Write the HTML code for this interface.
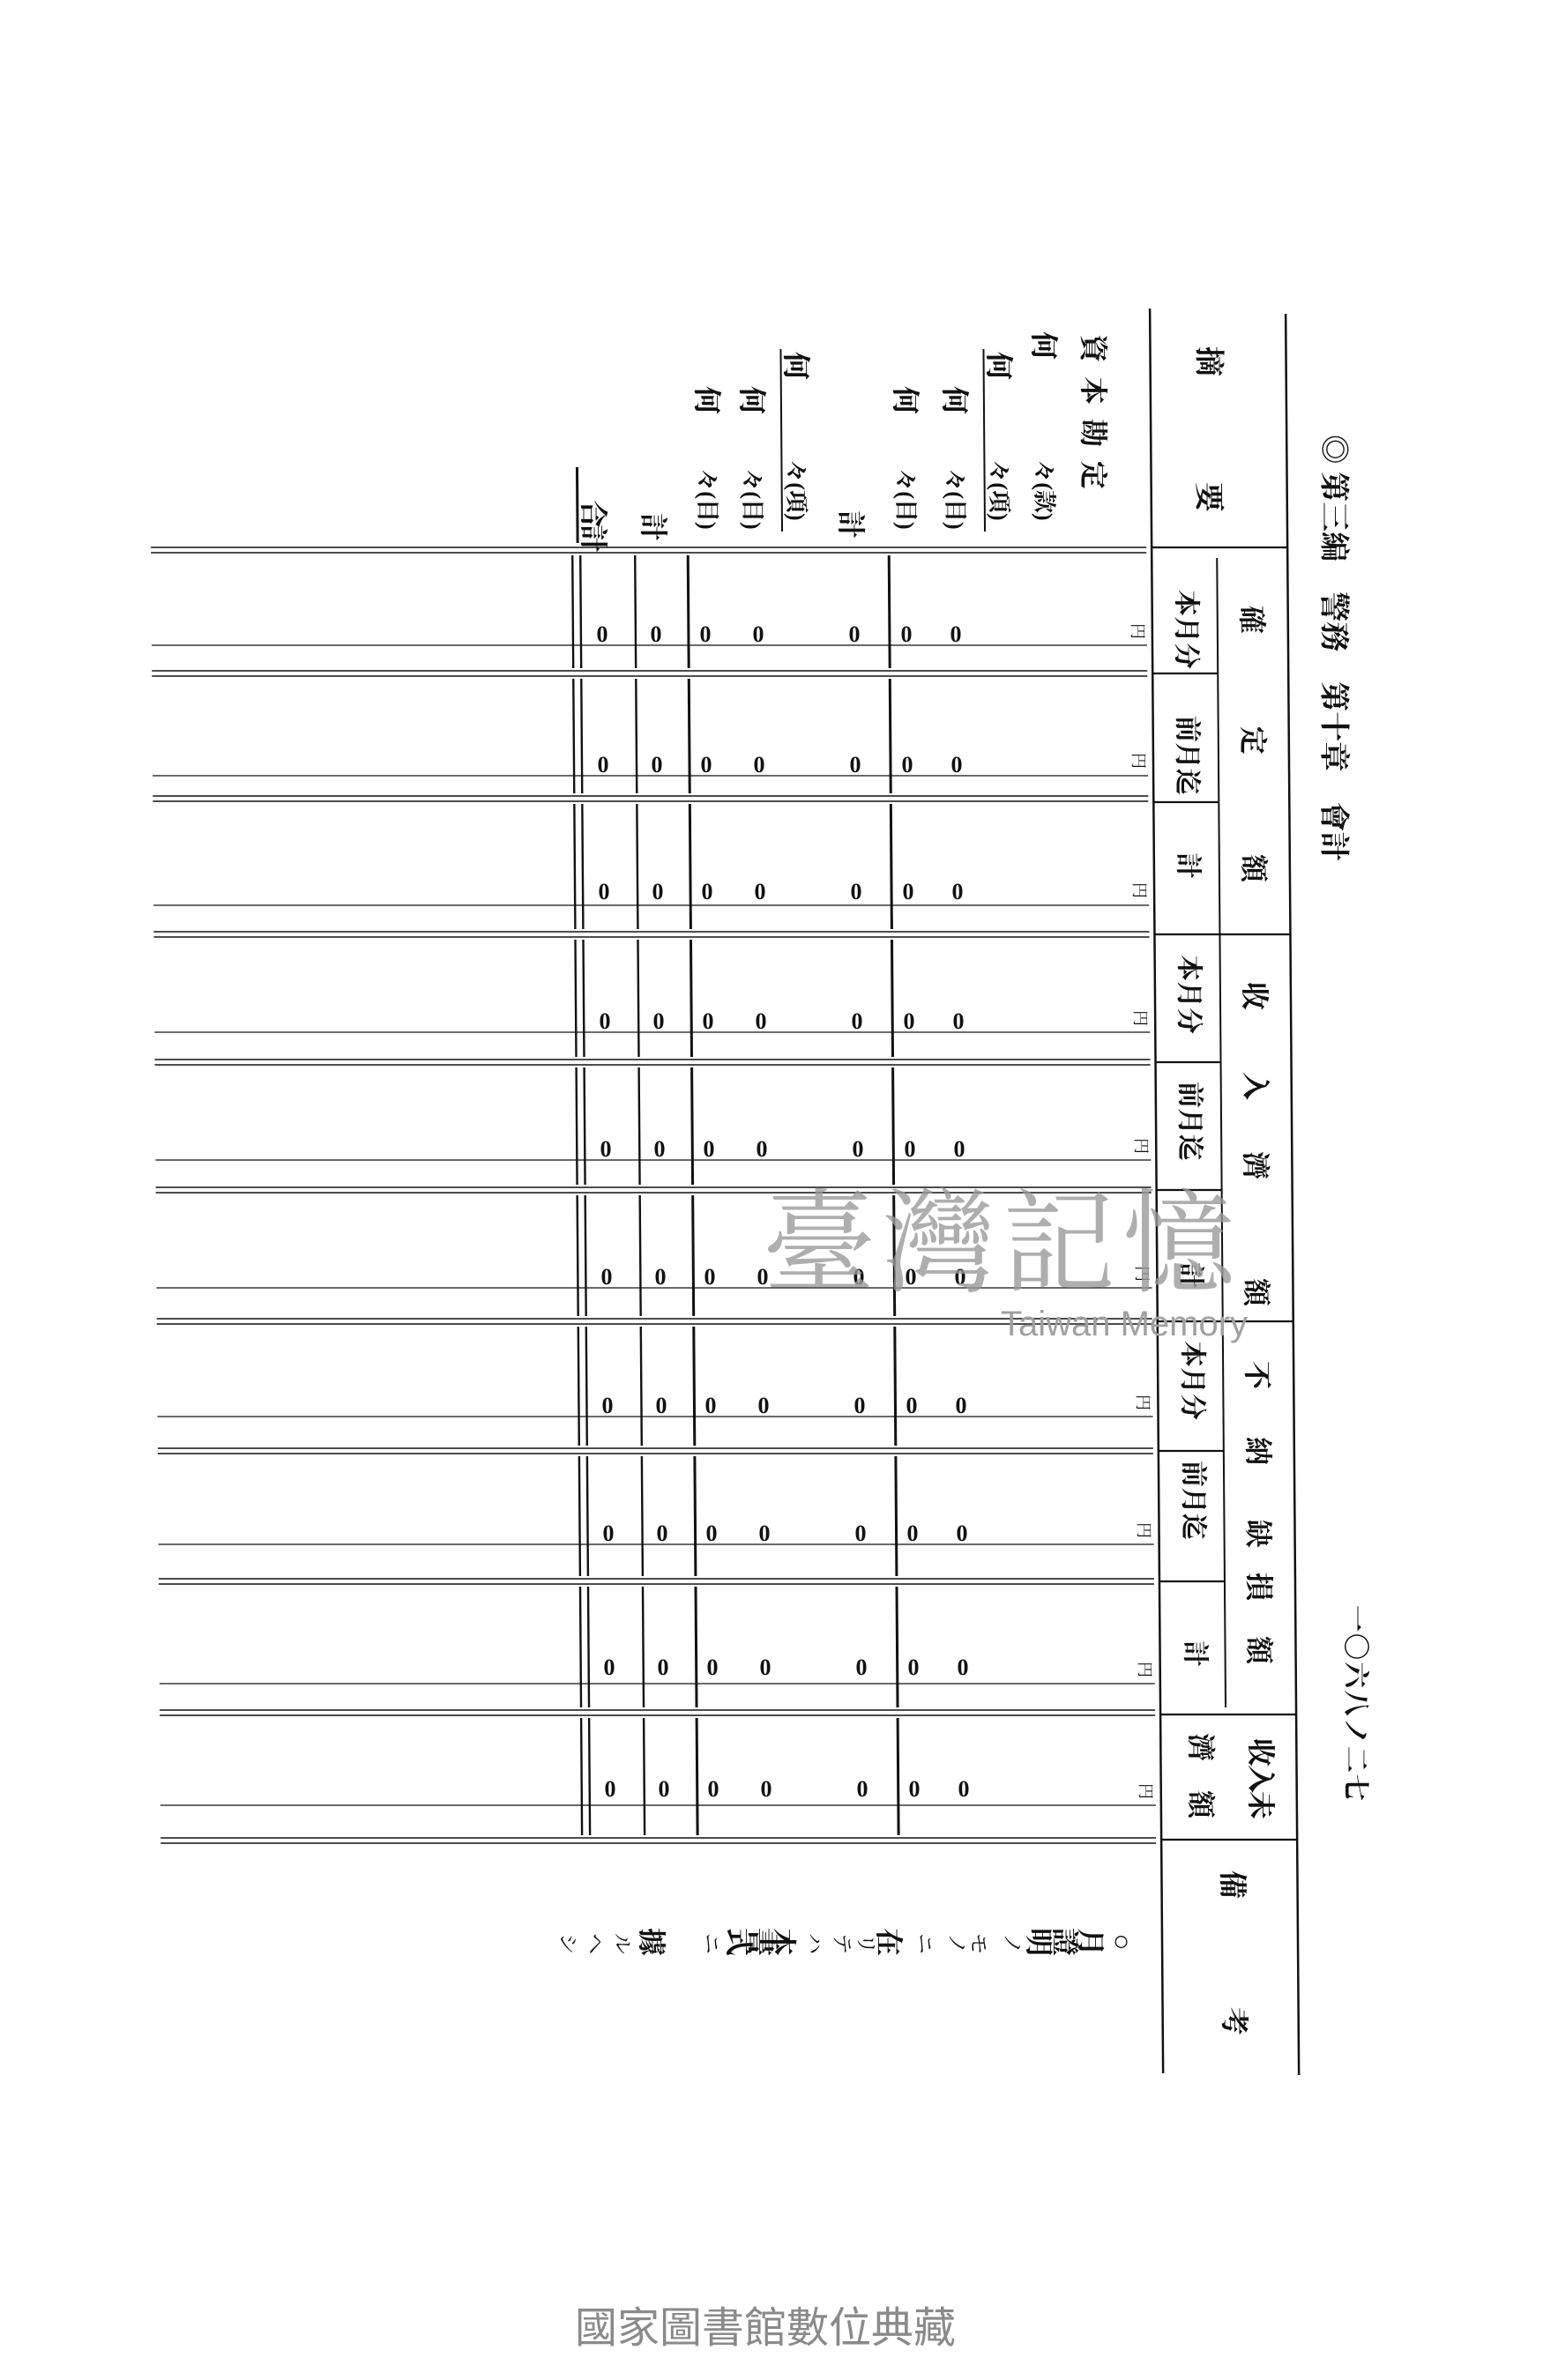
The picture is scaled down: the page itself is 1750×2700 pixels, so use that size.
<!DOCTYPE html>
<html><head><meta charset="utf-8"><style>
html,body{margin:0;padding:0;background:#fff;}
svg{display:block;}
text{font-family:"Liberation Serif","Noto Serif CJK SC","Noto Sans CJK JP",serif;fill:#111;}
.b{font-weight:bold;}
</style></head><body>
<svg width="1750" height="2700" viewBox="0 0 1750 2700" xmlns="http://www.w3.org/2000/svg">
<rect width="1750" height="2700" fill="#fff"/>
<g transform="matrix(1,0,0.0075,1,-4.5,0)" stroke="#111" fill="none">
<!-- header verticals -->
<line x1="1306" y1="350" x2="1306" y2="2352" stroke-width="2.5"/>
<line x1="1460" y1="356" x2="1460" y2="2354" stroke-width="2.5"/>
<line x1="1380" y1="633" x2="1380" y2="1937" stroke-width="2"/>
<!-- header horizontals full -->
<g stroke-width="2.2">
<line x1="1306" y1="621" x2="1460" y2="621"/>
<line x1="1306" y1="1060" x2="1460" y2="1060"/>
<line x1="1306" y1="1499" x2="1460" y2="1499"/>
<line x1="1306" y1="1945" x2="1460" y2="1945"/>
<line x1="1306" y1="2087" x2="1460" y2="2087"/>
<line x1="1306" y1="764" x2="1380" y2="764"/>
<line x1="1306" y1="910" x2="1380" y2="910"/>
<line x1="1306" y1="1205" x2="1380" y2="1205"/>
<line x1="1306" y1="1350" x2="1380" y2="1350"/>
<line x1="1306" y1="1646" x2="1380" y2="1646"/>
<line x1="1306" y1="1794" x2="1380" y2="1794"/>
</g>
<!-- body double lines -->
<g stroke-width="1.6">
<line x1="171" y1="621" x2="1300" y2="621"/><line x1="171" y1="627" x2="1300" y2="627"/>
<line x1="171" y1="761" x2="1300" y2="761"/><line x1="171" y1="767" x2="1300" y2="767"/>
<line x1="171" y1="903" x2="1300" y2="903"/><line x1="171" y1="909" x2="1300" y2="909"/>
<line x1="171" y1="1057" x2="1300" y2="1057"/><line x1="171" y1="1063" x2="1300" y2="1063"/>
<line x1="171" y1="1202" x2="1300" y2="1202"/><line x1="171" y1="1208" x2="1300" y2="1208"/>
<line x1="171" y1="1347" x2="1300" y2="1347"/><line x1="171" y1="1353" x2="1300" y2="1353"/>
<line x1="171" y1="1496" x2="1300" y2="1496"/><line x1="171" y1="1502" x2="1300" y2="1502"/>
<line x1="171" y1="1643" x2="1300" y2="1643"/><line x1="171" y1="1649" x2="1300" y2="1649"/>
<line x1="171" y1="1791" x2="1300" y2="1791"/><line x1="171" y1="1797" x2="1300" y2="1797"/>
<line x1="171" y1="1940" x2="1300" y2="1940"/><line x1="171" y1="1946" x2="1300" y2="1946"/>
<line x1="171" y1="2085" x2="1300" y2="2085"/><line x1="171" y1="2091" x2="1300" y2="2091"/>
</g>
<!-- thin lines -->
<g stroke-width="1.3">
<line x1="171" y1="732" x2="1300" y2="732"/>
<line x1="171" y1="880" x2="1300" y2="880"/>
<line x1="171" y1="1027" x2="1300" y2="1027"/>
<line x1="171" y1="1171" x2="1300" y2="1171"/>
<line x1="171" y1="1316" x2="1300" y2="1316"/>
<line x1="171" y1="1461" x2="1300" y2="1461"/>
<line x1="171" y1="1607" x2="1300" y2="1607"/>
<line x1="171" y1="1752" x2="1300" y2="1752"/>
<line x1="171" y1="1910" x2="1300" y2="1910"/>
<line x1="171" y1="2048" x2="1300" y2="2048"/>
</g>
<!-- body verticals -->
<g id="vcol">
<path d="M649 630V758M658 630V758M720 630V758M649 770V900M658 770V900M720 770V900M649 912V1054M658 912V1054M720 912V1054M649 1066V1199M658 1066V1199M720 1066V1199M649 1211V1344M658 1211V1344M720 1211V1344M649 1356V1493M658 1356V1493M720 1356V1493M649 1505V1640M658 1505V1640M720 1505V1640M649 1652V1788M658 1652V1788M720 1652V1788M649 1800V1937M658 1800V1937M720 1800V1937M649 1949V2082M658 1949V2082M720 1949V2082" stroke-width="2.4"/>
<path d="M780 630V758M1008 630V758M780 770V900M1008 770V900M780 912V1054M1008 912V1054M780 1066V1199M1008 1066V1199M780 1211V1344M1008 1211V1344M780 1356V1493M1008 1356V1493M780 1505V1640M1008 1505V1640M780 1652V1788M1008 1652V1788M780 1800V1937M1008 1800V1937M780 1949V2082M1008 1949V2082" stroke-width="3"/>
</g>
<!-- underline marks -->
<line x1="655" y1="530" x2="655" y2="616" stroke-width="3"/>
<line x1="1117" y1="396" x2="1117" y2="603" stroke-width="2"/>
<line x1="887" y1="396" x2="887" y2="603" stroke-width="2"/>
</g>

<!-- header text -->
<g class="b">
<text transform="translate(1512,735) rotate(90)" text-anchor="middle" dominant-baseline="central" font-size="34">◎ 第三編　警務　第十章　會計</text>
<text transform="translate(1537,1933) rotate(90)" text-anchor="middle" dominant-baseline="central" font-size="30" letter-spacing="2">一〇六八ノ二七</text>
<text transform="translate(1370,410) rotate(90)" text-anchor="middle" dominant-baseline="central" font-size="34">摘</text>
<text transform="translate(1370,564) rotate(90)" text-anchor="middle" dominant-baseline="central" font-size="34">要</text>
<g font-size="32">
<text transform="translate(1420,703) rotate(90)" text-anchor="middle" dominant-baseline="central">確</text>
<text transform="translate(1421,840) rotate(90)" text-anchor="middle" dominant-baseline="central">定</text>
<text transform="translate(1422,985) rotate(90)" text-anchor="middle" dominant-baseline="central">額</text>
<text transform="translate(1423,1130) rotate(90)" text-anchor="middle" dominant-baseline="central">收</text>
<text transform="translate(1424,1232) rotate(90)" text-anchor="middle" dominant-baseline="central">入</text>
<text transform="translate(1424,1322) rotate(90)" text-anchor="middle" dominant-baseline="central">濟</text>
<text transform="translate(1425,1466) rotate(90)" text-anchor="middle" dominant-baseline="central">額</text>
<text transform="translate(1426,1560) rotate(90)" text-anchor="middle" dominant-baseline="central">不</text>
<text transform="translate(1427,1646) rotate(90)" text-anchor="middle" dominant-baseline="central">納</text>
<text transform="translate(1427,1740) rotate(90)" text-anchor="middle" dominant-baseline="central">缺</text>
<text transform="translate(1428,1800) rotate(90)" text-anchor="middle" dominant-baseline="central">損</text>
<text transform="translate(1428,1872) rotate(90)" text-anchor="middle" dominant-baseline="central">額</text>
<text transform="translate(1430,2017) rotate(90)" text-anchor="middle" dominant-baseline="central" letter-spacing="-2">收入未</text>
<text transform="translate(1362,1982) rotate(90)" text-anchor="middle" dominant-baseline="central">濟</text>
<text transform="translate(1362,2047) rotate(90)" text-anchor="middle" dominant-baseline="central">額</text>
<text transform="translate(1398,2138) rotate(90)" text-anchor="middle" dominant-baseline="central">備</text>
<text transform="translate(1400,2293) rotate(90)" text-anchor="middle" dominant-baseline="central">考</text>
</g>
<g font-size="30">
<text transform="translate(1345,714) rotate(90)" text-anchor="middle" dominant-baseline="central">本月分</text>
<text transform="translate(1346,857) rotate(90)" text-anchor="middle" dominant-baseline="central">前月迄</text>
<text transform="translate(1347,982) rotate(90)" text-anchor="middle" dominant-baseline="central">計</text>
<text transform="translate(1348,1128) rotate(90)" text-anchor="middle" dominant-baseline="central">本月分</text>
<text transform="translate(1349,1272) rotate(90)" text-anchor="middle" dominant-baseline="central">前月迄</text>
<text transform="translate(1350,1447) rotate(90)" text-anchor="middle" dominant-baseline="central">計</text>
<text transform="translate(1352,1566) rotate(90)" text-anchor="middle" dominant-baseline="central">本月分</text>
<text transform="translate(1353,1702) rotate(90)" text-anchor="middle" dominant-baseline="central">前月迄</text>
<text transform="translate(1355,1876) rotate(90)" text-anchor="middle" dominant-baseline="central">計</text>
</g>
</g>

<!-- row labels -->
<g class="b" font-size="32">
<text transform="translate(1240,475) rotate(90)" text-anchor="middle" dominant-baseline="central" letter-spacing="16">資本勘定</text>
<text transform="translate(1184,392) rotate(90)" text-anchor="middle" dominant-baseline="central">何</text>
<text transform="translate(1184,556) rotate(90)" text-anchor="middle" dominant-baseline="central" font-size="26">々(款)</text>
<text transform="translate(1133,415) rotate(90)" text-anchor="middle" dominant-baseline="central">何</text>
<text transform="translate(1133,556) rotate(90)" text-anchor="middle" dominant-baseline="central" font-size="26">々(項)</text>
<text transform="translate(1083,454) rotate(90)" text-anchor="middle" dominant-baseline="central">何</text>
<text transform="translate(1083,566) rotate(90)" text-anchor="middle" dominant-baseline="central" font-size="26">々(目)</text>
<text transform="translate(1027,454) rotate(90)" text-anchor="middle" dominant-baseline="central">何</text>
<text transform="translate(1027,566) rotate(90)" text-anchor="middle" dominant-baseline="central" font-size="26">々(目)</text>
<text transform="translate(965,595) rotate(90)" text-anchor="middle" dominant-baseline="central">計</text>
<text transform="translate(903,415) rotate(90)" text-anchor="middle" dominant-baseline="central">何</text>
<text transform="translate(903,556) rotate(90)" text-anchor="middle" dominant-baseline="central" font-size="26">々(項)</text>
<text transform="translate(853,454) rotate(90)" text-anchor="middle" dominant-baseline="central">何</text>
<text transform="translate(853,566) rotate(90)" text-anchor="middle" dominant-baseline="central" font-size="26">々(目)</text>
<text transform="translate(802,454) rotate(90)" text-anchor="middle" dominant-baseline="central">何</text>
<text transform="translate(802,566) rotate(90)" text-anchor="middle" dominant-baseline="central" font-size="26">々(目)</text>
<text transform="translate(741,598) rotate(90)" text-anchor="middle" dominant-baseline="central">計</text>
<text transform="translate(673,595) rotate(90)" text-anchor="middle" dominant-baseline="central" letter-spacing="-4">合計</text>
</g>

<!-- zeros and yen -->
<g class="b" font-size="26" text-anchor="middle">
<g transform="translate(0,0)">
<text x="683" y="728">0</text><text x="744" y="728">0</text><text x="800" y="728">0</text><text x="860" y="728">0</text><text x="969" y="728">0</text><text x="1028" y="728">0</text><text x="1084" y="728">0</text>
</g>
<g transform="translate(1,148)">
<text x="683" y="728">0</text><text x="744" y="728">0</text><text x="800" y="728">0</text><text x="860" y="728">0</text><text x="969" y="728">0</text><text x="1028" y="728">0</text><text x="1084" y="728">0</text>
</g>
<g transform="translate(2,292)">
<text x="683" y="728">0</text><text x="744" y="728">0</text><text x="800" y="728">0</text><text x="860" y="728">0</text><text x="969" y="728">0</text><text x="1028" y="728">0</text><text x="1084" y="728">0</text>
</g>
<g transform="translate(3,439)">
<text x="683" y="728">0</text><text x="744" y="728">0</text><text x="800" y="728">0</text><text x="860" y="728">0</text><text x="969" y="728">0</text><text x="1028" y="728">0</text><text x="1084" y="728">0</text>
</g>
<g transform="translate(4,584)">
<text x="683" y="728">0</text><text x="744" y="728">0</text><text x="800" y="728">0</text><text x="860" y="728">0</text><text x="969" y="728">0</text><text x="1028" y="728">0</text><text x="1084" y="728">0</text>
</g>
<g transform="translate(5,729)">
<text x="683" y="728">0</text><text x="744" y="728">0</text><text x="800" y="728">0</text><text x="860" y="728">0</text><text x="969" y="728">0</text><text x="1028" y="728">0</text><text x="1084" y="728">0</text>
</g>
<g transform="translate(6,875)">
<text x="683" y="728">0</text><text x="744" y="728">0</text><text x="800" y="728">0</text><text x="860" y="728">0</text><text x="969" y="728">0</text><text x="1028" y="728">0</text><text x="1084" y="728">0</text>
</g>
<g transform="translate(7,1020)">
<text x="683" y="728">0</text><text x="744" y="728">0</text><text x="800" y="728">0</text><text x="860" y="728">0</text><text x="969" y="728">0</text><text x="1028" y="728">0</text><text x="1084" y="728">0</text>
</g>
<g transform="translate(8,1172)">
<text x="683" y="728">0</text><text x="744" y="728">0</text><text x="800" y="728">0</text><text x="860" y="728">0</text><text x="969" y="728">0</text><text x="1028" y="728">0</text><text x="1084" y="728">0</text>
</g>
<g transform="translate(9,1310)">
<text x="683" y="728">0</text><text x="744" y="728">0</text><text x="800" y="728">0</text><text x="860" y="728">0</text><text x="969" y="728">0</text><text x="1028" y="728">0</text><text x="1084" y="728">0</text>
</g>
</g>
<g font-size="18">
<text transform="translate(1290,716) rotate(90)" text-anchor="middle" dominant-baseline="central">円</text>
<text transform="translate(1291,863) rotate(90)" text-anchor="middle" dominant-baseline="central">円</text>
<text transform="translate(1292,1010) rotate(90)" text-anchor="middle" dominant-baseline="central">円</text>
<text transform="translate(1293,1155) rotate(90)" text-anchor="middle" dominant-baseline="central">円</text>
<text transform="translate(1294,1300) rotate(90)" text-anchor="middle" dominant-baseline="central">円</text>
<text transform="translate(1295,1445) rotate(90)" text-anchor="middle" dominant-baseline="central">円</text>
<text transform="translate(1296,1591) rotate(90)" text-anchor="middle" dominant-baseline="central">円</text>
<text transform="translate(1297,1736) rotate(90)" text-anchor="middle" dominant-baseline="central">円</text>
<text transform="translate(1298,1894) rotate(90)" text-anchor="middle" dominant-baseline="central">円</text>
<text transform="translate(1299,2032) rotate(90)" text-anchor="middle" dominant-baseline="central">円</text>
</g>

<!-- note -->
<g class="b" font-size="32">
<text transform="translate(1273,2203) rotate(90)" text-anchor="middle" dominant-baseline="central">○</text>
<text transform="translate(1237,2203) rotate(90)" text-anchor="middle" dominant-baseline="central">月</text>
<text transform="translate(1208,2203) rotate(90)" text-anchor="middle" dominant-baseline="central">證</text>
<text transform="translate(1178,2203) rotate(90)" text-anchor="middle" dominant-baseline="central">明</text>
<text transform="translate(1008,2203) rotate(90)" text-anchor="middle" dominant-baseline="central">在</text>
<text transform="translate(887,2203) rotate(90)" text-anchor="middle" dominant-baseline="central">本</text>
<text transform="translate(863,2203) rotate(90)" text-anchor="middle" dominant-baseline="central">書</text>
<text transform="translate(838,2203) rotate(90)" text-anchor="middle" dominant-baseline="central">式</text>
<text transform="translate(739,2203) rotate(90)" text-anchor="middle" dominant-baseline="central">據</text>
</g>
<g font-size="24">
<text transform="translate(1147,2205) rotate(90)" text-anchor="middle" dominant-baseline="central">ノ</text>
<text transform="translate(1109,2205) rotate(90)" text-anchor="middle" dominant-baseline="central">モ</text>
<text transform="translate(1084,2205) rotate(90)" text-anchor="middle" dominant-baseline="central">ノ</text>
<text transform="translate(1048,2205) rotate(90)" text-anchor="middle" dominant-baseline="central">ニ</text>
<text transform="translate(981,2205) rotate(90)" text-anchor="middle" dominant-baseline="central">リ</text>
<text transform="translate(954,2205) rotate(90)" text-anchor="middle" dominant-baseline="central">テ</text>
<text transform="translate(923,2205) rotate(90)" text-anchor="middle" dominant-baseline="central">ハ</text>
<text transform="translate(806,2205) rotate(90)" text-anchor="middle" dominant-baseline="central">ニ</text>
<text transform="translate(705,2205) rotate(90)" text-anchor="middle" dominant-baseline="central">ル</text>
<text transform="translate(674,2205) rotate(90)" text-anchor="middle" dominant-baseline="central">ヘ</text>
<text transform="translate(643,2205) rotate(90)" text-anchor="middle" dominant-baseline="central">シ</text>
</g>

<!-- watermark -->
<text x="1137" y="1455" text-anchor="middle" font-size="128" style="fill:#9a9a9a;opacity:0.8;font-family:'Noto Serif CJK SC',serif" letter-spacing="8">臺灣記憶</text>
<text x="1275" y="1515" text-anchor="middle" font-size="40" style="fill:#a0a0a0;font-family:'Liberation Sans Narrow','Liberation Sans',sans-serif">Taiwan Memory</text>

<!-- footer -->
<text x="868" y="2657" text-anchor="middle" font-size="48" style="fill:#8a8a8a;font-family:'Liberation Sans','Noto Sans CJK TC',sans-serif">國家圖書館數位典藏</text>
</svg>
</body></html>
